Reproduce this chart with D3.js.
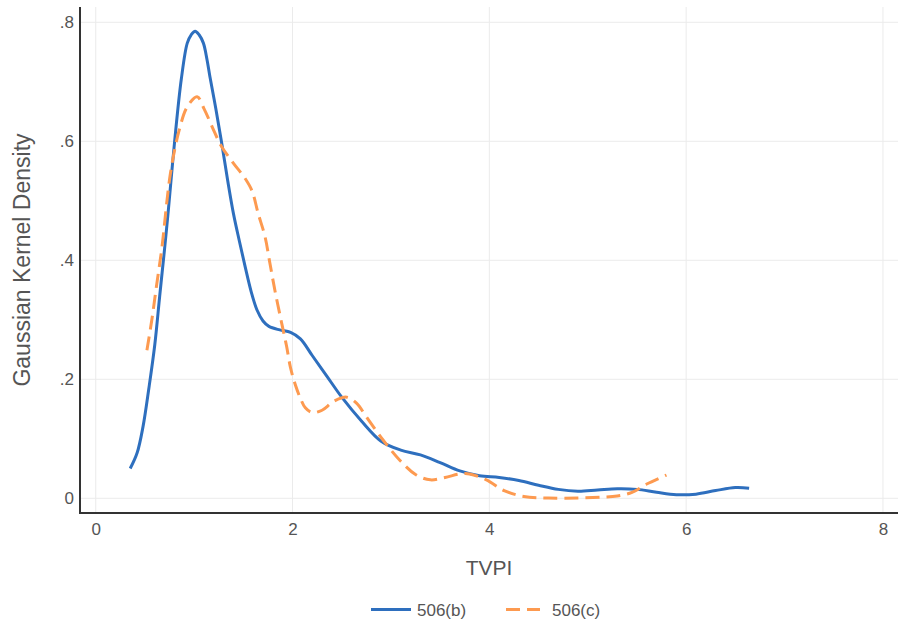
<!DOCTYPE html>
<html>
<head>
<meta charset="utf-8">
<script src="https://cdn.jsdelivr.net/npm/d3@7"></script>
<style>
  body { margin: 0; background: #fff; }
  svg text { font-family: "Liberation Sans", Arial, sans-serif; fill: #555; }
</style>
</head>
<body>
<div id="chart"></div>
<script>
// density curves (x = TVPI, y = density)
const series506b = [
  [0.35, 0.050], [0.42, 0.076], [0.48, 0.12], [0.54, 0.185], [0.60, 0.258],
  [0.65, 0.34], [0.70, 0.42], [0.74, 0.488], [0.80, 0.597], [0.87, 0.705],
  [0.93, 0.765], [0.97, 0.779], [1.01, 0.785], [1.05, 0.779], [1.094, 0.765],
  [1.13, 0.738], [1.16, 0.709], [1.22, 0.655], [1.28, 0.597], [1.34, 0.535],
  [1.40, 0.478], [1.46, 0.432], [1.52, 0.388], [1.58, 0.347], [1.64, 0.316],
  [1.70, 0.298], [1.76, 0.289], [1.87, 0.283], [1.98, 0.279], [2.08, 0.268],
  [2.20, 0.24], [2.35, 0.205], [2.50, 0.17], [2.70, 0.13], [2.90, 0.096],
  [3.10, 0.081], [3.30, 0.073], [3.50, 0.06], [3.70, 0.046], [3.90, 0.038],
  [4.10, 0.035], [4.30, 0.03], [4.50, 0.022], [4.70, 0.015], [4.90, 0.012],
  [5.10, 0.014], [5.30, 0.016], [5.50, 0.015], [5.70, 0.010], [5.90, 0.006],
  [6.10, 0.007], [6.30, 0.013], [6.50, 0.018], [6.64, 0.017]
];
const series506c = [
  [0.52, 0.249], [0.57, 0.30], [0.62, 0.36], [0.67, 0.418], [0.76, 0.547],
  [0.85, 0.62], [0.93, 0.658], [1.03, 0.675], [1.10, 0.655], [1.20, 0.618],
  [1.28, 0.591], [1.40, 0.563], [1.52, 0.537], [1.59, 0.516], [1.65, 0.479],
  [1.72, 0.44], [1.77, 0.395], [1.82, 0.35], [1.89, 0.294], [1.94, 0.255],
  [1.98, 0.219], [2.03, 0.19], [2.08, 0.168], [2.13, 0.152], [2.20, 0.144],
  [2.30, 0.148], [2.42, 0.163], [2.55, 0.17], [2.65, 0.16], [2.75, 0.137],
  [2.92, 0.098], [3.09, 0.064], [3.25, 0.04], [3.40, 0.031], [3.55, 0.035],
  [3.70, 0.041], [3.80, 0.041], [3.97, 0.031], [4.15, 0.013], [4.35, 0.003],
  [4.60, 0.0005], [4.90, 0.0005], [5.15, 0.002], [5.30, 0.004], [5.45, 0.01],
  [5.60, 0.024], [5.80, 0.039]
];
const seriesNames = ["506(b)", "506(c)"];
const seriesColors = ["#2e6fbe", "#fd9a50"];
const xTicks = [0, 2, 4, 6, 8];
const yTicks = [0, 0.2, 0.4, 0.6, 0.8];
const yTickLabels = ["0", ".2", ".4", ".6", ".8"];

const width = 902, height = 623;
const plot = { left: 80, right: 898, top: 7, bottom: 513 };

const svg = d3.select("#chart").append("svg")
  .attr("width", width)
  .attr("height", height);

const x = d3.scaleLinear().domain([-0.16, 8.153]).range([plot.left, plot.right]);
const y = d3.scaleLinear().domain([-0.0247, 0.8257]).range([plot.bottom, plot.top]);

// grid
svg.append("g").selectAll("line").data(xTicks).enter().append("line")
  .attr("x1", d => x(d)).attr("x2", d => x(d))
  .attr("y1", plot.top).attr("y2", plot.bottom)
  .attr("stroke", "#ebebeb").attr("stroke-width", 1);
svg.append("g").selectAll("line").data(yTicks).enter().append("line")
  .attr("x1", plot.left).attr("x2", plot.right)
  .attr("y1", d => y(d)).attr("y2", d => y(d))
  .attr("stroke", "#ebebeb").attr("stroke-width", 1);

// axes
const xAxis = d3.axisBottom(x).tickValues(xTicks).tickSize(0).tickPadding(10)
  .tickFormat(d3.format("d"));
const gx = svg.append("g")
  .attr("transform", `translate(0,${plot.bottom})`)
  .call(xAxis);
gx.select(".domain").remove();
gx.selectAll("text").style("font-size", "17px").attr("fill", "#5a5a5a");

const yAxis = d3.axisLeft(y).tickValues(yTicks).tickSize(0).tickPadding(6)
  .tickFormat((d, i) => yTickLabels[i]);
const gy = svg.append("g")
  .attr("transform", `translate(${plot.left},0)`)
  .call(yAxis);
gy.select(".domain").remove();
gy.selectAll("text").style("font-size", "17px").attr("fill", "#5a5a5a");

svg.append("line")
  .attr("x1", plot.left).attr("x2", plot.left)
  .attr("y1", plot.top).attr("y2", plot.bottom + 1)
  .attr("stroke", "#333").attr("stroke-width", 2);
svg.append("line")
  .attr("x1", plot.left - 1).attr("x2", plot.right)
  .attr("y1", plot.bottom).attr("y2", plot.bottom)
  .attr("stroke", "#333").attr("stroke-width", 2);

// axis titles
svg.append("text")
  .attr("x", (plot.left + plot.right) / 2)
  .attr("y", 575)
  .attr("text-anchor", "middle")
  .style("font-size", "21px")
  .text("TVPI");

svg.append("text")
  .attr("transform", `translate(30,${(plot.top + plot.bottom) / 2}) rotate(-90)`)
  .attr("text-anchor", "middle")
  .style("font-size", "23px")
  .text("Gaussian Kernel Density");

// lines
const line = d3.line()
  .x(d => x(d[0]))
  .y(d => y(d[1]))
  .curve(d3.curveCatmullRom.alpha(0.5));

const data = [series506b, series506c];
svg.append("g").selectAll("path").data(data).enter().append("path")
  .attr("d", d => line(d))
  .attr("fill", "none")
  .attr("stroke", (d, i) => seriesColors[i])
  .attr("stroke-width", 3)
  .attr("stroke-dasharray", (d, i) => i === 1 ? "14,7" : null);

// legend
const legendItems = [
  { x1: 371, x2: 411, tx: 417 },
  { x1: 506, x2: 540, tx: 552 }
];
const legend = svg.append("g");
legendItems.forEach((it, i) => {
  legend.append("line")
    .attr("x1", it.x1).attr("x2", it.x2)
    .attr("y1", 609.5).attr("y2", 609.5)
    .attr("stroke", seriesColors[i])
    .attr("stroke-width", 3)
    .attr("stroke-dasharray", i === 1 ? "14,7" : null);
  legend.append("text")
    .attr("x", it.tx).attr("y", 615.5)
    .style("font-size", "17px")
    .text(seriesNames[i]);
});
</script>
</body>
</html>
